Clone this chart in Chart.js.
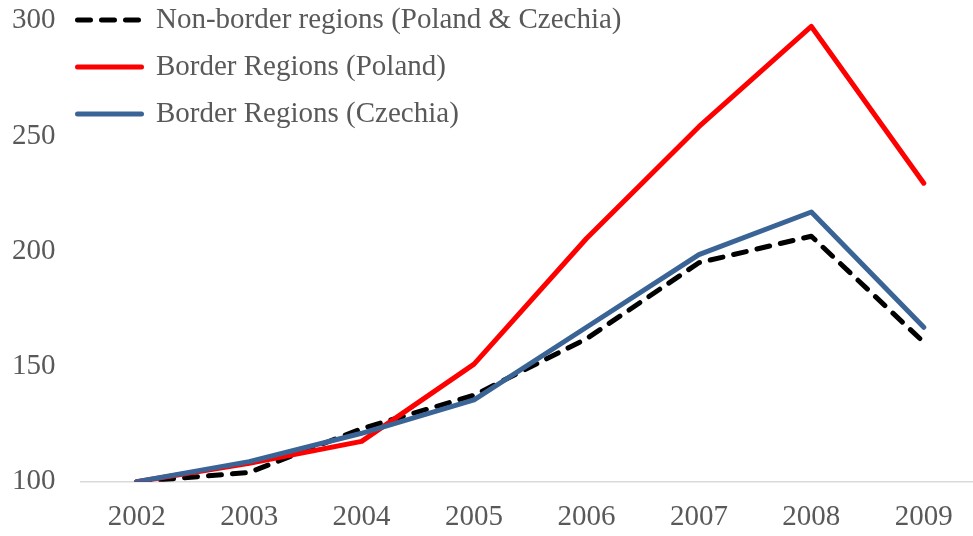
<!DOCTYPE html>
<html>
<head>
<meta charset="utf-8">
<title>Border vs non-border regions</title>
<script src="https://cdn.jsdelivr.net/npm/chart.js@4.4.1/dist/chart.umd.min.js"></script>
<style>
  html, body { margin: 0; padding: 0; background: #fff; overflow: hidden; }
  .chart-wrap { position: relative; width: 982px; height: 536px; }
</style>
</head>
<body>
<div class="chart-wrap">
  <canvas id="regionsChart"></canvas>
</div>
<script>
// Data (index, 2002 = 100)
const years = ['2002', '2003', '2004', '2005', '2006', '2007', '2008', '2009'];
const nonBorder = [100, 104, 123, 137.5, 162, 195, 206.5, 160.5];
const borderPoland = [100, 108, 117.5, 151, 205.5, 254, 297.5, 229.5];
const borderCzechia = [100, 108.7, 121, 135.5, 167, 198.5, 217, 167];
const yTicks = [100, 150, 200, 250, 300];

const FONT = "'Liberation Serif', 'Times New Roman', serif";
const TEXT = '#595959';

document.addEventListener('DOMContentLoaded', () => {
  initChart();
});

/**
 * Legend sits inside the plot, top-left
 */
const legendPlacer = {
  id: 'legendPlacer',
  afterLayout(chart) {
    const lg = chart.legend;
    if (!lg) return;
    lg.left = 59.5;
    lg.top = -12.5;
  }
};

// legend samples use the dataset line style (dash, width, cap)
function legendLabels(chart) {
  const items = Chart.defaults.plugins.legend.labels.generateLabels(chart);
  return items.map(item => {
    const ds = chart.data.datasets[item.datasetIndex];
    item.strokeStyle = ds.borderColor;
    item.lineWidth = ds.borderWidth;
    item.lineDash = ds.borderDash || [];
    item.lineCap = ds.borderCapStyle;
    return item;
  });
}

function initChart() {
  const ctx = document.getElementById('regionsChart').getContext('2d');

  new Chart(ctx, {
    type: 'line',
    data: {
      labels: years,
      datasets: [{
        label: 'Non-border regions (Poland & Czechia)',
        data: nonBorder,
        borderColor: '#000000',
        borderWidth: 5,
        borderDash: [13, 11],
        borderCapStyle: 'round',
        borderJoinStyle: 'round',
        tension: 0,
        pointRadius: 0,
        order: 3
      }, {
        label: 'Border Regions (Poland)',
        data: borderPoland,
        borderColor: '#ff0000',
        borderWidth: 5,
        borderCapStyle: 'round',
        borderJoinStyle: 'round',
        tension: 0,
        pointRadius: 0,
        order: 2
      }, {
        label: 'Border Regions (Czechia)',
        data: borderCzechia,
        borderColor: '#3b6496',
        borderWidth: 5,
        borderCapStyle: 'round',
        borderJoinStyle: 'round',
        tension: 0,
        pointRadius: 0,
        order: 1
      }]
    },
    options: {
      responsive: true,
      maintainAspectRatio: false,
      animation: false,
      layout: {
        padding: { left: 12, right: 2, top: 20.7, bottom: 2 }
      },
      plugins: {
        legend: {
          position: 'chartArea',
          fullSize: false,
          align: 'start',
          labels: {
            usePointStyle: true,
            pointStyle: 'line',
            pointStyleWidth: 64,
            padding: 18,
            color: TEXT,
            font: { family: FONT, size: 29 },
            generateLabels: legendLabels,
            sort: (a, b) => a.datasetIndex - b.datasetIndex
          }
        },
        tooltip: { enabled: false }
      },
      scales: {
        x: {
          offset: true,
          grid: { display: false, drawTicks: false },
          border: { display: true, color: '#d9d9d9', width: 1.5 },
          afterFit: (axis) => { axis.height = 52.3; },
          ticks: {
            color: TEXT,
            padding: 18,
            maxRotation: 0,
            font: { family: FONT, size: 29 }
          }
        },
        y: {
          min: yTicks[0],
          max: yTicks[yTicks.length - 1],
          grid: { display: false, tickLength: 22 },
          border: { display: false },
          afterFit: (axis) => { axis.width = 68.5; },
          afterBuildTicks: (axis) => {
            axis.ticks = yTicks.map(v => ({ value: v }));
          },
          ticks: {
            color: TEXT,
            padding: 3,
            font: { family: FONT, size: 29 }
          }
        }
      }
    },
    plugins: [legendPlacer]
  });
}
</script>
</body>
</html>
